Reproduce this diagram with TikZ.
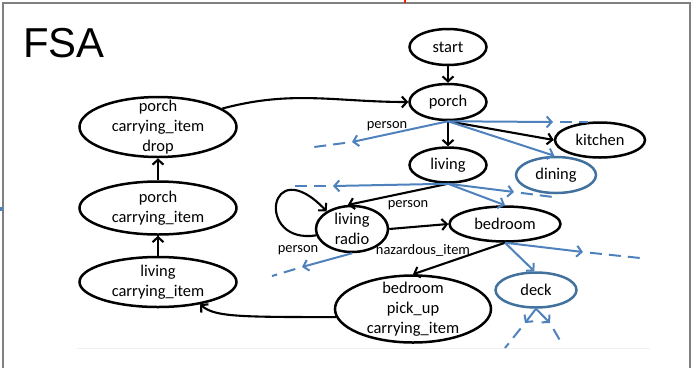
\documentclass[tikz,border=0pt]{standalone}
\usepackage{fontspec}
\setmainfont{Carlito}
\newfontfamily\titlefont{Liberation Sans}
\usetikzlibrary{shapes.geometric,arrows.meta}

\definecolor{flowblue}{HTML}{4F81BD}
\definecolor{nodeblue}{HTML}{41719C}
\definecolor{framegray}{HTML}{808080}

\begin{document}
\begin{tikzpicture}[x=1bp,y=-1bp,
  fsnode/.style={ellipse,draw=black,line width=2.5bp,inner sep=0pt,
    font=\fontsize{16.5}{20}\selectfont},
  bluenode/.style={fsnode,draw=nodeblue},
  fstext/.style={inner sep=0pt,align=center,font=\fontsize{16.5}{20}\selectfont},
  barb/.style={-{Straight Barb[length=5bp,width=11bp]}},
  flow/.style={barb,line width=2.1bp},
  blueflow/.style={barb,draw=flowblue,line width=2bp},
  stub/.style={draw=flowblue,line width=2bp,dash pattern=on 12bp off 7bp,dash phase=12bp},
  lbl/.style={inner sep=0pt,font=\fontsize{14.5}{16}\selectfont}
]
\useasboundingbox (0,0) rectangle (692,368);

% slide frame
\draw[framegray,line width=2bp] (3,368) -- (3,3) -- (689.5,3) -- (689.5,368);
\draw[black!6,line width=1bp] (77,348) -- (650,348);
\draw[red!80!orange,line width=1.5bp] (405,0) -- (405,3);
\fill[flowblue] (0,207) rectangle (3,211);

% title
\node[anchor=base west,inner sep=0pt,font=\titlefont\fontsize{42}{42}\selectfont] (title) at (23,57) {FSA};

% states
\node[fsnode,minimum width=77bp,minimum height=36bp] (start) at (448,47) {start};
\node[fsnode,minimum width=77bp,minimum height=36bp] (porch) at (448,102) {porch};
\node[fsnode,minimum width=90bp,minimum height=35bp] (kitchen) at (600,140) {kitchen};
\node[fsnode,minimum width=77bp,minimum height=35bp] (living) at (448,165) {living};
\node[bluenode,minimum width=80bp,minimum height=36bp] (dining) at (556,175) {dining};
\node[fsnode,minimum width=72bp,minimum height=46bp] (lr) at (352,229) {};
\node[fstext] (lr-t) at (lr) {living\\radio};
\node[fsnode,minimum width=111bp,minimum height=35bp] (bedroom) at (505,224) {bedroom};
\node[bluenode,minimum width=81bp,minimum height=35bp] (deck) at (536,290) {deck};
\node[fsnode,minimum width=156bp,minimum height=67bp] (pick) at (413,309) {};
\node[fstext] (pick-t) at (pick) {bedroom\\pick\_up\\carrying\_item};
\node[fsnode,minimum width=157bp,minimum height=60bp] (drop) at (158,127) {};
\node[fstext] (drop-t) at (drop) {porch\\carrying\_item\\drop};
\node[fsnode,minimum width=157bp,minimum height=53bp] (pci) at (158,208) {};
\node[fstext] (pci-t) at (pci) {porch\\carrying\_item};
\node[fsnode,minimum width=157bp,minimum height=50bp] (lci) at (158,282) {};
\node[fstext] (lci-t) at (lci) {living\\carrying\_item};

% open-ended transitions
\coordinate (pL) at (352,142);  \coordinate (pLe) at (314,147);
\coordinate (pR) at (553,122);  \coordinate (pRe) at (588,122);
\coordinate (lL) at (333,186);  \coordinate (lLe) at (294,186);
\coordinate (lR) at (514,192);  \coordinate (lRe) at (553,197);
\coordinate (rL) at (302,267);  \coordinate (rLe) at (272,276);
\coordinate (bR) at (583,252);  \coordinate (bRe) at (640,258);
\coordinate (dL) at (525,323);  \coordinate (dLe) at (505,348);
\coordinate (dR) at (550,323);  \coordinate (dRe) at (562,344);

% black transitions
\draw[flow] (start) -- (porch);
\draw[flow] (porch) -- (living);
\draw[flow] (porch.south) -- (kitchen.west);
\draw[flow] (drop.16) to[out=15,in=180] (porch.west);
\draw[flow] (lci) -- (pci);
\draw[flow] (pci) -- (drop);
\draw[flow] (living.south) -- (lr.100);
\draw[flow] (lr.190) .. controls (255,245) and (268,150) .. (lr.145);
\draw[flow] (lr.east) -- (bedroom.west);
\draw[flow] (bedroom.south) -- (pick.north);
\draw[flow] (pick.186) .. controls (240,317) and (215,317) .. (lci.-28);

% blue transitions
\draw[blueflow] (porch.south) -- (pL);
\draw[stub] (pL) -- (pLe);
\draw[blueflow] (porch.south) -- (pR);
\draw[stub] (pR) -- (pRe);
\draw[blueflow] (porch.south) -- (dining.95);
\draw[blueflow] (living.south) -- (lL);
\draw[stub] (lL) -- (lLe);
\draw[blueflow] (living.south) -- (lR);
\draw[stub] (lR) -- (lRe);
\draw[blueflow] (living.south) -- (bedroom.north);
\draw[blueflow] (lr.south) -- (rL);
\draw[stub] (rL) -- (rLe);
\draw[blueflow] (bedroom.south) -- (bR);
\draw[stub] (bR) -- (bRe);
\draw[blueflow] (bedroom.south) -- (deck.95);
\draw[blueflow] (deck.south) -- (dL);
\draw[stub] (dL) -- (dLe);
\draw[blueflow] (deck.south) -- (dR);
\draw[stub] (dR) -- (dRe);

% transition labels
\node[lbl] (l1) at (387,126) {person};
\node[lbl] (l2) at (408,205) {person};
\node[lbl] (l3) at (298,250) {person};
\node[lbl] (l4) at (423,250) {hazardous\_item};
\end{tikzpicture}
\end{document}
